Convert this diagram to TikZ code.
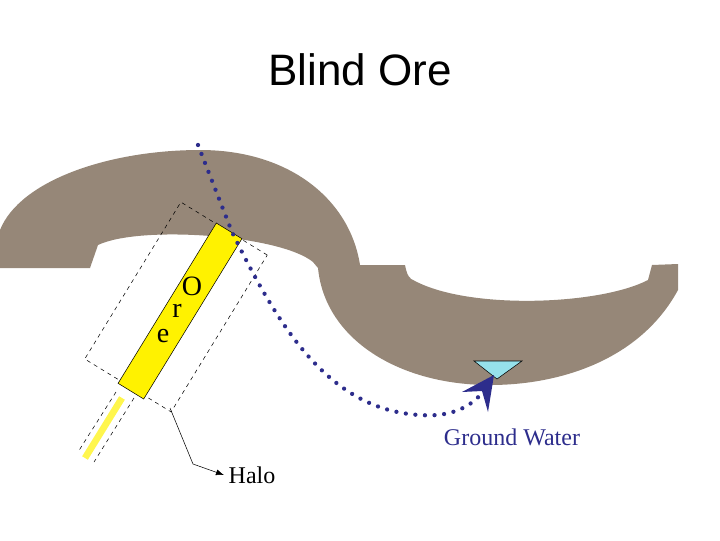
\documentclass[tikz,border=0pt]{standalone}
\usepackage{fontspec}
\setmainfont{Liberation Serif}
\newfontfamily\titlefont{Liberation Sans}
\usetikzlibrary{arrows.meta}
\definecolor{rock}{RGB}{150,135,120}
\definecolor{navy}{RGB}{45,45,140}
\definecolor{water}{RGB}{150,225,235}
\tikzset{halo/.style={draw,dashed,thin},lbl/.style={font=\fontsize{18}{20}\selectfont},orel/.style={font=\fontsize{21}{24}\selectfont}}
\begin{document}
\begin{tikzpicture}[x=0.75pt,y=-0.75pt]
\useasboundingbox (0,0) rectangle (720,540);
% rock band
\fill[rock] (0,268) -- (0,230) .. controls (20,180) and (110,150) .. (200,150)
 .. controls (290,150) and (350,200) .. (360,265)
 -- (405,265) .. controls (407,275) and (409,279) .. (415,281)
 .. controls (470,310) and (600,305) .. (648,280)
 -- (652,265) -- (678,264) -- (678,290)
 .. controls (640,360) and (560,385) .. (490,385)
 .. controls (400,385) and (325,340) .. (318,268)
 -- (313,262) .. controls (280,235) and (140,225) .. (98,245) -- (90,268) -- cycle;
% lower extension
\draw[yellow!70,line width=5pt] (122,398) -- (85,458);
\draw[dashed] (116,392) -- (78,452) (134,398) -- (94,462);
% halo
\node[halo,minimum width=76pt,minimum height=138pt,rotate=-31.5] (h) at (176,307) {};
% ore
\node[draw,fill=yellow,minimum width=22.5pt,minimum height=141pt,rotate=-31.5] (ore) at (180,311) {};
\node[orel] (o1) at (192,286) {O};
\node[orel] (o2) at (177,311) {r};
\node[orel] (o3) at (163,336) {e};
% water
\coordinate (wt) at (497,379);
\draw[fill=water] (474,361) -- (522,361) -- (wt) -- cycle;
% flow
\coordinate (s) at (198,145);
\coordinate (e) at (491,380);
\draw[navy,line width=3.2pt,dash pattern=on 0pt off 7.2pt,line cap=round]
 (s) -- (232,232) .. controls (280,330) and (330,410) .. (420,415)
 .. controls (460,418) and (480,400) .. (e);
\fill[navy] (494,375) -- (462,392) -- (482,391) -- (488,412) -- cycle;
% labels
\node[font=\titlefont\fontsize{33}{38}\selectfont] (t) at (360,70) {Blind Ore};
\node[lbl,text=navy] (gw) at (512,437) {Ground Water};
\node[lbl] (halo) at (252,475) {Halo};
\draw[-{Latex[length=6pt]}] (170,408) -- (193,464) -- (halo.west);
\end{tikzpicture}
\end{document}
